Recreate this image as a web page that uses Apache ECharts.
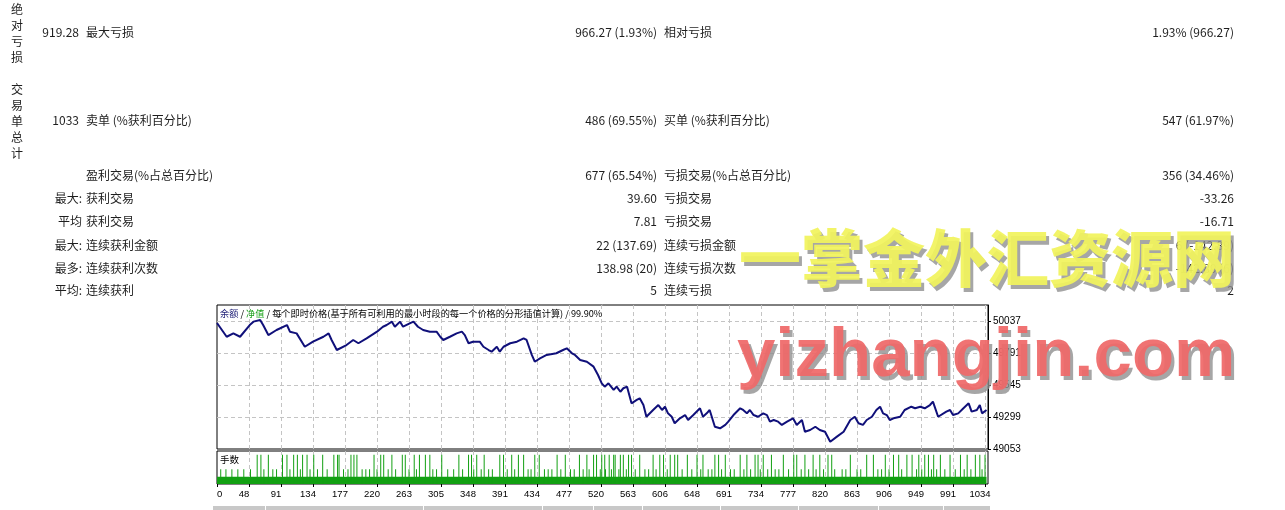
<!DOCTYPE html>
<html><head><meta charset="utf-8">
<script src="https://cdn.jsdelivr.net/npm/echarts@6/dist/echarts.min.js"></script>
<style>html,body{margin:0;padding:0;background:#fff}#c{width:1285px;height:510px}</style>
</head><body><div id="c"></div>
<script>
// ---------- data ----------
const tradeIdx = [0,13,22,31,44,49,58,62,69,80,94,98,107,118,129,143,150,154,161,174,183,190,201,215,223,228,235,239,246,250,259,264,270,277,286,295,300,304,313,322,329,333,338,344,353,358,365,369,376,380,385,394,403,412,416,423,427,434,443,456,465,470,477,481,488,497,506,512,517,521,526,533,537,542,546,551,557,564,568,573,577,586,593,598,602,606,611,615,622,629,633,640,649,653,658,662,669,676,683,687,694,703,707,712,716,721,727,734,739,743,748,754,759,766,774,779,786,790,797,804,810,817,824,833,842,851,857,862,868,873,880,886,891,895,900,904,909,918,924,933,938,945,951,958,962,969,980,985,989,996,1003,1010,1014,1021,1025,1028,1034];
const balance = [50022,49916,49942,49916,50006,50032,50045,50006,49929,49968,
50006,49955,49942,49839,49878,49916,49942,49891,49814,49852,
49891,49866,49904,49955,49993,50006,50032,49993,50032,49993,
50019,50032,49993,49968,49955,49955,49916,49891,49916,49942,
49955,49929,49866,49878,49878,49839,49814,49801,49839,49801,
49839,49866,49878,49904,49891,49776,49724,49750,49776,49789,
49814,49827,49789,49776,49737,49724,49686,49622,49558,49532,
49558,49507,49532,49493,49520,49532,49404,49430,49443,49391,
49301,49353,49391,49353,49378,49327,49301,49251,49289,49314,
49276,49314,49366,49301,49327,49353,49224,49212,49238,49263,
49314,49366,49353,49327,49353,49314,49301,49327,49314,49263,
49276,49263,49238,49263,49289,49238,49276,49186,49199,49224,
49199,49186,49109,49148,49186,49276,49301,49251,49238,49276,
49301,49353,49378,49327,49314,49276,49289,49301,49353,49378,
49366,49378,49366,49391,49417,49301,49340,49353,49314,49327,
49366,49404,49340,49353,49391,49327,49353];
const xTickLabels = ['0','48','91','134','177','220','263','305','348','391','434','477','520','563','606','648','691','734','777','820','863','906','949','991','1034'];
const baseLot = 0.1, mediumLot = 0.2, tallLot = 0.4;
const baseLotSpan = [0, 1034];
const tallLotTrades = [54,59,69,88,94,103,108,115,121,130,142,157,162,164,180,184,188,211,220,224,235,249,253,265,272,280,286,302,325,338,342,349,359,380,385,396,405,412,427,433,457,468,487,497,506,510,517,521,527,533,535,542,546,553,557,568,586,595,600,609,615,619,632,645,653,669,674,683,703,712,723,727,734,745,761,775,779,790,801,810,821,826,851,873,882,898,909,916,927,934,943,951,956,963,972,985,999,1008,1019,1025,1032];
const mediumLotTrades = [5,12,20,28,36,45,63,75,80,98,112,125,135,148,170,176,195,200,205,215,230,240,258,268,290,295,310,318,330,345,355,365,370,390,400,418,422,440,445,450,462,475,480,492,500,515,522,530,540,550,562,575,580,590,605,625,638,650,660,665,678,690,695,708,717,730,740,750,755,768,785,795,805,815,830,840,845,860,865,888,893,903,920,940,947,960,967,978,992,1004,1013,1028];

const sideLabel1 = '绝对亏损';
const sideLabel2 = '交易单总计';
const leadCol = ['919.28','1033','','最大:','平均','最大:','最多:','平均:'];
const leftLabels = ['最大亏损','卖单 (%获利百分比)','盈利交易(%占总百分比)','获利交易','获利交易','连续获利金额','连续获利次数','连续获利'];
const leftValues = ['966.27 (1.93%)','486 (69.55%)','677 (65.54%)','39.60','7.81','22 (137.69)','138.98 (20)','5'];
const rightLabels = ['相对亏损','买单 (%获利百分比)','亏损交易(%占总百分比)','亏损交易','亏损交易','连续亏损金额','连续亏损次数','连续亏损'];
const rightValues = ['1.93% (966.27)','547 (61.97%)','356 (34.46%)','-33.26','-16.71','6 (-142.89)','-142.89 (6)','2'];
const chartTitle = ['余额','净值','每个即时价格(基于所有可利用的最小时段的每一个价格的分形插值计算)','99.90%'];
const volumeTitle = '手数';
const watermarkCn = '一掌金外汇资源网';
const watermarkEn = 'yizhangjin.com';

// ---------- layout ----------
const rowY = [32, 120, 175, 198.3, 221.7, 245, 268.3, 290.7];
const FONT = '"Noto Sans CJK SC", "Liberation Sans", sans-serif';
const TXT = '#1e1e1e';
const gridL = 217, gridW = 771;

function txt(x, y, s, align, extra, z) {
  return {
    type: 'text', x: x, y: y, z: z || 10,
    style: Object.assign({
      text: s, font: '12px ' + FONT, fill: TXT,
      align: align, textAlign: align, verticalAlign: 'middle', textVerticalAlign: 'middle'
    }, extra || {})
  };
}

const graphics = [];
graphics.push(txt(17, 1, sideLabel1.split('').join('\n'), 'center', {verticalAlign:'top', textVerticalAlign:'top', lineHeight:16}));
graphics.push(txt(17, 81, sideLabel2.split('').join('\n'), 'center', {verticalAlign:'top', textVerticalAlign:'top', lineHeight:16}));
rowY.forEach((y, i) => {
  if (leadCol[i]) graphics.push(txt(/^[0-9.]+$/.test(leadCol[i]) ? 79 : 82, y, leadCol[i], 'right'));
  graphics.push(txt(86, y, leftLabels[i], 'left'));
  graphics.push(txt(657, y, leftValues[i], 'right'));
  graphics.push(txt(664, y, rightLabels[i], 'left'));
  graphics.push(txt(1234, y, rightValues[i], 'right'));
});
graphics.push(txt(220, 459, volumeTitle, 'left', {font: '9.5px ' + FONT, fill: '#000'}, 20));
// bottom table header strip
graphics.push({type:'rect', shape:{x:213, y:506, width:777, height:4}, style:{fill:'#c8c8c8'}, z:1});
[265, 423, 542, 593, 642, 720, 798, 878, 943].forEach(x => graphics.push({type:'rect', shape:{x:x, y:506, width:1, height:4}, style:{fill:'#ffffff'}, z:2}));
// watermarks (gray drop shadow copy + coloured text)
const cnFont = '900 62px "Noto Sans CJK SC"';
const enFont = 'bold 69px "Liberation Sans"';
graphics.push(txt(742, 262, watermarkCn, 'left', {font: cnFont, fill: '#909090', opacity: 0.8}, 99));
graphics.push(txt(739, 258, watermarkCn, 'left', {font: cnFont, fill: '#f1f35c', opacity: 0.93}, 100));
graphics.push(txt(740, 361, watermarkEn, 'left', {font: enFont, fill: '#909090', opacity: 0.8}, 99));
graphics.push(txt(737, 357, watermarkEn, 'left', {font: enFont, fill: '#ef6868', opacity: 0.93}, 100));

const dash = {show:true, showMinLine:false, showMaxLine:false, lineStyle:{color:'#c4c4c4', type:[4,3], width:1}};
const xStep = 43;

const lotData = mediumLotTrades.map(t => [t, mediumLot]).concat(tallLotTrades.map(t => [t, tallLot]));

const option = {
  animation: false,
  backgroundColor: '#ffffff',
  title: {
    left: 220, top: 309, padding: 0,
    text: '{a|' + chartTitle[0] + '} / {b|' + chartTitle[1] + '} / ' + chartTitle[2] + ' / ' + chartTitle[3],
    textStyle: {fontSize: 9.2, fontWeight: 'normal', color: '#000', fontFamily: FONT,
      rich: {a: {color: '#24247a', fontSize: 9.2, fontFamily: FONT}, b: {color: '#18a018', fontSize: 9.2, fontFamily: FONT}}}
  },
  grid: [
    {left: gridL, top: 305, width: gridW, height: 144, show: true, borderColor: '#000', borderWidth: 1, backgroundColor: 'transparent'},
    {left: gridL, top: 451, width: gridW, height: 33, show: true, borderColor: '#000', borderWidth: 1, backgroundColor: 'transparent'}
  ],
  xAxis: [
    {type:'value', gridIndex:0, min:0, max:1036, interval:xStep, axisLine:{show:false}, axisTick:{show:false}, axisLabel:{show:false}, splitLine: dash},
    {type:'value', gridIndex:1, min:0, max:1036, interval:xStep, axisLine:{show:false},
      axisTick:{show:true, inside:false, length:3, lineStyle:{color:'#000'}}, splitLine: dash,
      axisLabel:{show:true, showMaxLabel:false, alignMinLabel:'left', margin:5, fontSize:9.5, color:'#000', fontFamily:'"Liberation Sans", sans-serif',
        padding:[0,10,0,0],
        formatter: v => { const i = Math.round(v / xStep); return Math.abs(v - i * xStep) < 0.5 ? (xTickLabels[i] || '') : ''; }}}
  ],
  yAxis: [
    {type:'value', gridIndex:0, position:'right', min:49053, max:50160, interval:246,
      axisLine:{show:true, onZero:false, lineStyle:{color:'#000', width:1}}, axisTick:{show:true, inside:false, length:3, lineStyle:{color:'#000'}},
      axisLabel:{show:true, showMaxLabel:false, margin:5, fontSize:10, color:'#000', fontFamily:'"Liberation Sans", sans-serif',
        formatter: v => String(Math.round(v))},
      splitLine: dash},
    {type:'value', gridIndex:1, min:0, max:0.45, show:false, splitLine:{show:false}}
  ],
  series: [
    {type:'line', xAxisIndex:0, yAxisIndex:0, data: tradeIdx.map((t, i) => [t, balance[i]]), showSymbol:false, symbol:'none',
      lineStyle:{color:'#10107a', width:2}, z:5},
    {type:'line', xAxisIndex:1, yAxisIndex:1, data: baseLotSpan.map(t => [t, baseLot]), showSymbol:false, symbol:'none',
      lineStyle:{width:0, color:'#12a012'}, areaStyle:{color:'#12a012', opacity:1}},
    {type:'bar', xAxisIndex:1, yAxisIndex:1, data: lotData, barWidth:1, itemStyle:{color:'#12a012'}, z:4}
  ],
  graphic: graphics
};
const chart = echarts.init(document.getElementById('c'), null, {renderer:'canvas'});
chart.setOption(option);
</script></body></html>
